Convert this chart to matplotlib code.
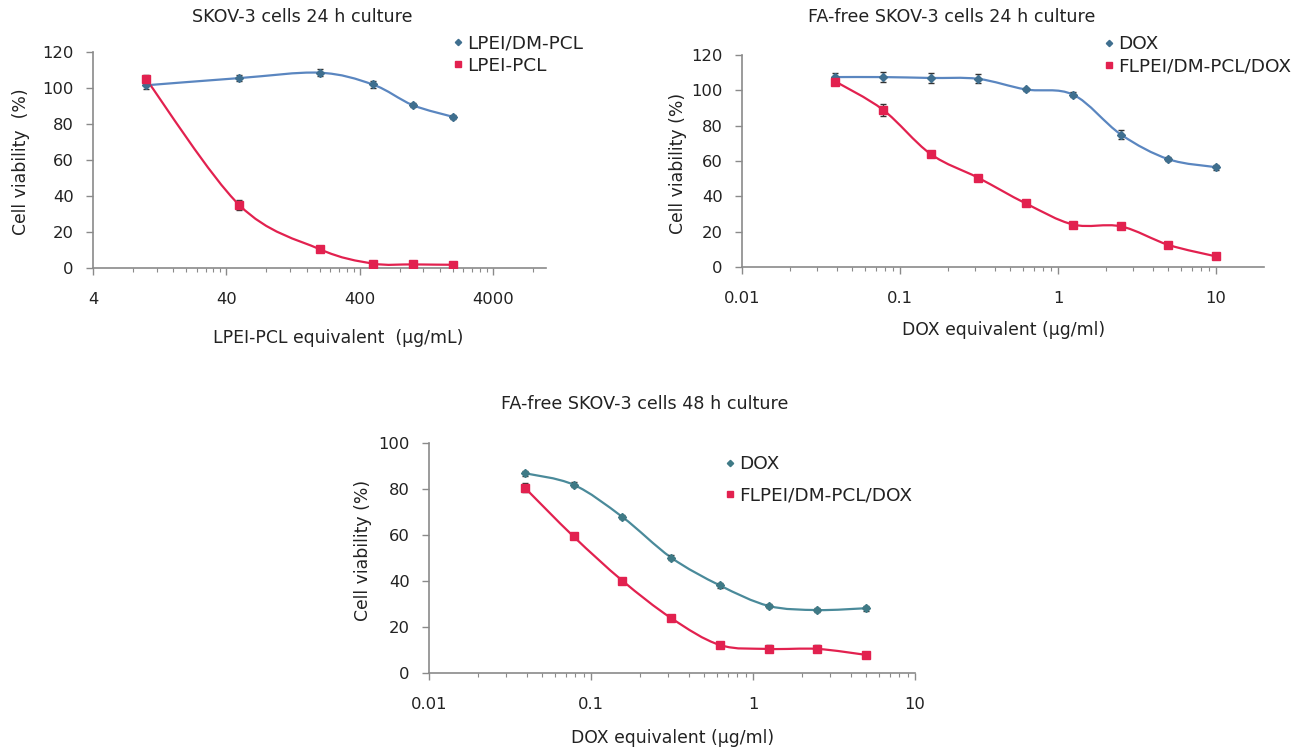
import numpy as np
import matplotlib
matplotlib.use("Agg")
import matplotlib.pyplot as plt
from matplotlib.path import Path
from matplotlib.patches import PathPatch
from matplotlib.lines import Line2D
from matplotlib.ticker import FixedLocator, NullFormatter

plt.rcParams['font.family'] = ['DejaVu Sans']

# ---------------- data ----------------
# Panel A: SKOV-3 cells 24 h culture
a_x = [10, 50, 200, 500, 1000, 2000]
a_dm = [101.5, 105.5, 108.5, 102, 90.5, 84]
a_dm_err = [2, 1.5, 2, 2, 1, 1]
a_pcl = [105, 35, 10.5, 2.5, 2, 1.8]
a_pcl_err = [2, 3, 1, 1, 1, 1]

# Panel B: FA-free SKOV-3 cells 24 h culture
b_x = [0.039, 0.078, 0.156, 0.3125, 0.625, 1.25, 2.5, 5, 10]
b_dox = [107.5, 107.5, 107, 106.5, 100.5, 97.5, 75, 61, 56.5]
b_dox_err = [2.5, 3, 3, 2.5, 1, 1.5, 2.5, 1, 1.5]
b_fl = [105, 89, 64, 50.5, 36, 24, 23, 12.5, 6]
b_fl_err = [1.5, 3.5, 1, 1, 1, 1, 1, 1, 1]

# Panel C: FA-free SKOV-3 cells 48 h culture
c_x = [0.039, 0.078, 0.156, 0.3125, 0.625, 1.25, 2.5, 5]
c_dox = [87, 82, 68, 50.3, 38.2, 29.3, 27.5, 28.3]
c_dox_err = [1, 1, 1, 1, 1, 1, 1, 1]
c_fl = [80.7, 59.5, 40.3, 24, 12.3, 10.6, 10.6, 8]
c_fl_err = [2, 1, 1, 1, 1, 1.5, 1.5, 1]

titles = ["SKOV-3 cells 24 h culture",
          "FA-free SKOV-3 cells 24 h culture",
          "FA-free SKOV-3 cells 48 h culture"]
xlabels = ["LPEI-PCL equivalent  (\u03bcg/mL)",
           "DOX equivalent (\u03bcg/ml)",
           "DOX equivalent (\u03bcg/ml)"]
ylabels = ["Cell viability  (%)", "Cell viability (%)", "Cell viability (%)"]
legends = [["LPEI/DM-PCL", "LPEI-PCL"],
           ["DOX", "FLPEI/DM-PCL/DOX"],
           ["DOX", "FLPEI/DM-PCL/DOX"]]

BLUE_LINE = "#5a86c0"
BLUE_MK = "#3f6f8f"
TEAL_LINE = "#4a8a9a"
TEAL_MK = "#3f7a86"
RED = "#e2214f"
AX_COL = "#8a8a8a"
TXT = "#222222"
FS_TICK = 11.8
FS_LAB = 12.4
FS_TITLE = 12.6
FS_LEG = 13.3

W, H = 1296, 748
fig = plt.figure(figsize=(W / 100, H / 100), dpi=100)


def px_axes(left, right, top, bottom):
    return fig.add_axes([left / W, 1 - bottom / H, (right - left) / W, (bottom - top) / H])


def smooth_path(xs, ys):
    """Excel-like smoothed line (Catmull-Rom Bezier) in log-x space."""
    u = np.log10(np.asarray(xs, float))
    v = np.asarray(ys, float)
    n = len(u)
    verts = [(xs[0], ys[0])]
    codes = [Path.MOVETO]
    for i in range(n - 1):
        i0 = max(i - 1, 0)
        i3 = min(i + 2, n - 1)
        c1 = (u[i] + (u[i + 1] - u[i0]) / 6, v[i] + (v[i + 1] - v[i0]) / 6)
        c2 = (u[i + 1] - (u[i3] - u[i]) / 6, v[i + 1] - (v[i3] - v[i]) / 6)
        verts += [(10 ** c1[0], c1[1]), (10 ** c2[0], c2[1]), (xs[i + 1], ys[i + 1])]
        codes += [Path.CURVE4] * 3
    return Path(verts, codes)


def draw_series(ax, x, y, err, line_col, mk_col, marker, ms):
    ax.add_patch(PathPatch(smooth_path(x, y), fill=False, edgecolor=line_col, lw=1.6, zorder=2))
    ax.errorbar(x, y, yerr=err, fmt='none', ecolor="#333333", elinewidth=1.0,
                capsize=2.5, capthick=1.0, zorder=3)
    ax.plot(x, y, linestyle='none', marker=marker, ms=ms, color=mk_col,
            markeredgecolor=mk_col, zorder=4)


def style_axes(ax, xlim, ylim, yticks, xticks, xticklabels, minor):
    ax.set_xscale('log')
    ax.set_xlim(*xlim)
    ax.set_ylim(*ylim)
    ax.set_yticks(yticks)
    ax.set_xticks(xticks)
    ax.set_xticklabels(xticklabels)
    ax.xaxis.set_minor_locator(FixedLocator(minor))
    ax.xaxis.set_minor_formatter(NullFormatter())
    for s in ['top', 'right']:
        ax.spines[s].set_visible(False)
    for s in ['left', 'bottom']:
        ax.spines[s].set_color(AX_COL)
        ax.spines[s].set_linewidth(1.2)
    ax.tick_params(axis='both', which='major', color=AX_COL, length=5, width=1.0,
                   labelsize=FS_TICK, labelcolor=TXT, direction='out')
    ax.tick_params(axis='x', which='minor', color=AX_COL, length=3, width=0.8, direction='out')
    ax.tick_params(axis='x', which='major', pad=12)
    ax.tick_params(axis='y', which='major', pad=9)
    ax.patch.set_alpha(0)


def label_axes(ax, title, tpos, xlabel, xpos, ylabel, ypos):
    ax.set_title(title, fontsize=FS_TITLE, color=TXT, x=tpos[0], y=tpos[1], va='center')
    ax.set_xlabel(xlabel, fontsize=FS_LAB, color=TXT, va='center')
    ax.xaxis.set_label_coords(*xpos)
    ax.set_ylabel(ylabel, fontsize=FS_LAB, color=TXT, va='center')
    ax.yaxis.set_label_coords(*ypos)


def add_legend(ax, labels, x_px, y_px, spacing, markers):
    handles = [Line2D([], [], linestyle='none', marker=mk, color=col, ms=ms)
               for (mk, col, ms) in markers]
    ax.legend(handles, labels, loc='upper left', bbox_to_anchor=(x_px / W, 1 - y_px / H),
              bbox_transform=fig.transFigure, frameon=False, fontsize=FS_LEG,
              handlelength=0.45, handletextpad=0.3, borderpad=0, borderaxespad=0,
              labelspacing=spacing, labelcolor=TXT)


# ---------------- Panel A ----------------
axA = px_axes(93, 546, 52, 268)
draw_series(axA, a_x, a_dm, a_dm_err, BLUE_LINE, BLUE_MK, 'D', 4)
draw_series(axA, a_x, a_pcl, a_pcl_err, RED, RED, 's', 6)
minorA = [4 * k * 10 ** e for e in range(0, 4) for k in range(2, 10) if 4 * k * 10 ** e < 10000]
style_axes(axA, (4, 10000), (0, 120), range(0, 121, 20), [4, 40, 400, 4000],
           ["4", "40", "400", "4000"], minorA)
label_axes(axA, titles[0], (0.461, 1.125), xlabels[0], (0.541, -0.324),
           ylabels[0], (-0.159, 0.49))
add_legend(axA, legends[0], 453.7, 34, 0.25, [('D', BLUE_MK, 3.2), ('s', RED, 4.5)])

# ---------------- Panel B ----------------
axB = px_axes(742, 1263.6, 55, 267)
draw_series(axB, b_x, b_dox, b_dox_err, BLUE_LINE, BLUE_MK, 'D', 4)
draw_series(axB, b_x, b_fl, b_fl_err, RED, RED, 's', 5.5)
minorB = [k * 10.0 ** e for e in range(-2, 2) for k in range(2, 10) if k * 10.0 ** e < 20]
style_axes(axB, (0.01, 20), (0, 120), range(0, 121, 20), [0.01, 0.1, 1, 10],
           ["0.01", "0.1", "1", "10"], minorB)
label_axes(axB, titles[1], (0.4026, 1.1415), xlabels[1], (0.502, -0.297),
           ylabels[1], (-0.1227, 0.49))
add_legend(axB, legends[1], 1104.5, 35, 0.25, [('D', BLUE_MK, 3.2), ('s', RED, 4.5)])

# ---------------- Panel C ----------------
axC = px_axes(429, 915, 443.3, 673.3)
draw_series(axC, c_x, c_dox, c_dox_err, TEAL_LINE, TEAL_MK, 'D', 4)
draw_series(axC, c_x, c_fl, c_fl_err, RED, RED, 's', 5.5)
minorC = [k * 10.0 ** e for e in range(-2, 1) for k in range(2, 10)]
style_axes(axC, (0.01, 10), (0, 100), range(0, 101, 20), [0.01, 0.1, 1, 10],
           ["0.01", "0.1", "1", "10"], minorC)
label_axes(axC, titles[2], (0.444, 1.136), xlabels[2], (0.502, -0.281),
           ylabels[2], (-0.136, 0.533))
add_legend(axC, legends[2], 725.7, 455, 0.72, [('D', TEAL_MK, 3.2), ('s', RED, 4.5)])

fig.savefig("out.png", dpi=100, facecolor="white")
